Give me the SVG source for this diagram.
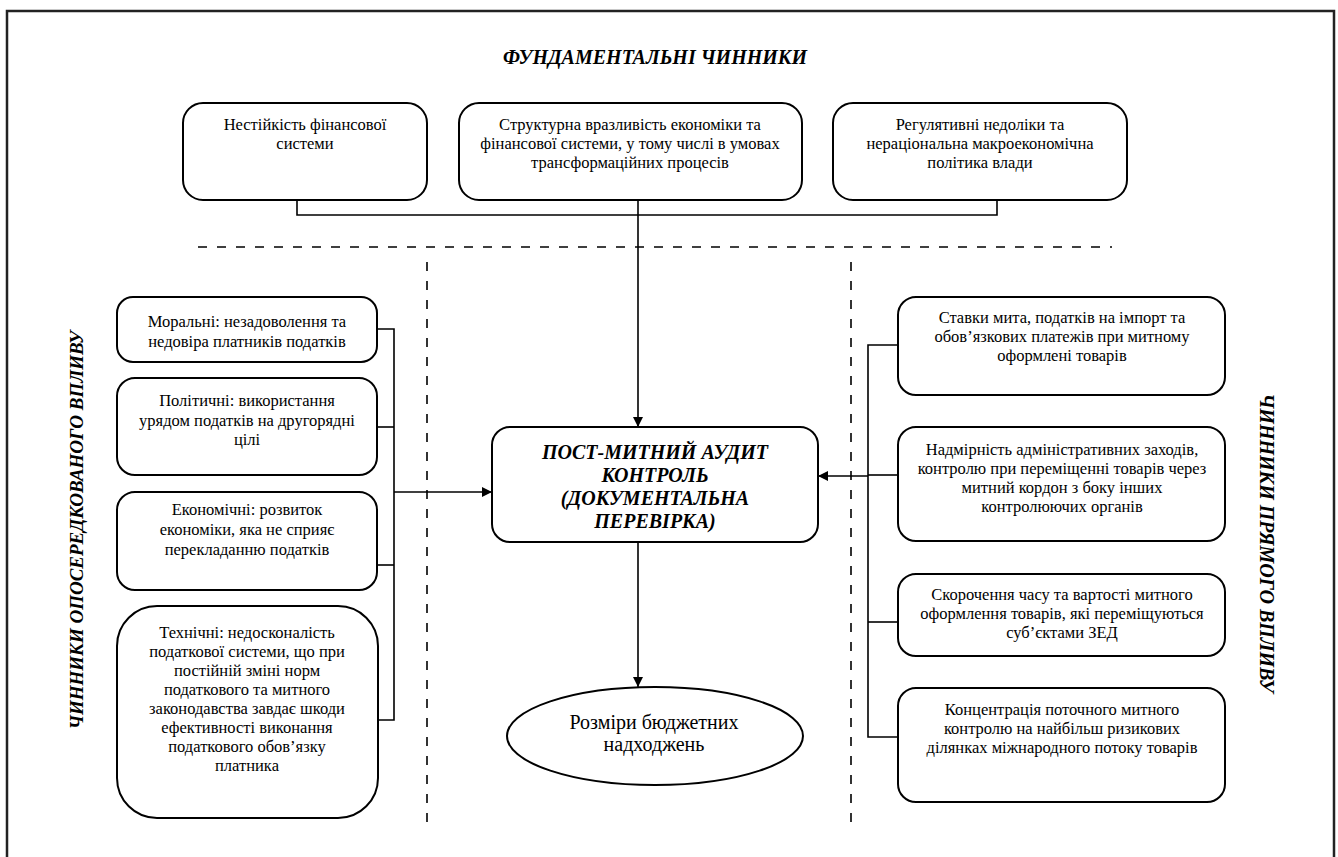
<svg xmlns="http://www.w3.org/2000/svg" width="1338" height="857" viewBox="0 0 1338 857">
<defs>
<style>
.box{fill:#fff;stroke:#000;stroke-width:2}
.t{font-size:16.5px;text-anchor:middle;fill:#000}
.tb{font-weight:bold;font-style:italic;text-anchor:middle;fill:#000}
.s18{font-size:20px}
.s19{font-size:19px}
.s20{font-size:20px}
.ln{fill:none;stroke:#000;stroke-width:1.6}
.dash{fill:none;stroke:#000;stroke-width:1.6;stroke-dasharray:9 10}
</style>
<marker id="arr" viewBox="0 0 10 10" refX="10" refY="5" markerWidth="10" markerHeight="10" markerUnits="userSpaceOnUse" orient="auto">
<path d="M0,0 L10,5 L0,10 z" fill="#000"/>
</marker>
</defs>
<rect x="0" y="0" width="1338" height="857" fill="#fff"/>
<path d="M7,862 V11 H1334 V862" fill="none" stroke="#222" stroke-width="2.5"/>

<g font-family="Liberation Serif, Tinos, Times New Roman, Noto Serif, DejaVu Serif, serif">
<g id="title"><text class="tb s20" x="655" y="64">ФУНДАМЕНТАЛЬНІ ЧИННИКИ</text></g>
<g id="label-left"><text class="tb s19" transform="translate(83,530) rotate(-90)">ЧИННИКИ ОПОСЕРЕДКОВАНОГО ВПЛИВУ</text></g>
<g id="label-right"><text class="tb s20" transform="translate(1260,543) rotate(90)">ЧИННИКИ ПРЯМОГО ВПЛИВУ</text></g>

<g id="dividers">
<line class="dash" x1="198" y1="247" x2="1112" y2="247"/>
<line class="dash" x1="427" y1="262" x2="427" y2="828"/>
<line class="dash" x1="851" y1="262" x2="851" y2="828"/>
</g>

<g id="connectors">
<path class="ln" d="M297,200 V215 H997 V200"/>
<path class="ln" d="M638,200 V427" marker-end="url(#arr)"/>
<path class="ln" d="M377,329 H394 V720 H378"/>
<path class="ln" d="M377,427 H394"/>
<path class="ln" d="M377,565 H394"/>
<path class="ln" d="M394,492 H492" marker-end="url(#arr)"/>
<path class="ln" d="M898,345 H868 V737 H898"/>
<path class="ln" d="M868,475 H898"/>
<path class="ln" d="M868,622 H898"/>
<path class="ln" d="M868,476 H818" marker-end="url(#arr)"/>
<path class="ln" d="M638,542 V687" marker-end="url(#arr)"/>
</g>

<g id="top1"><rect class="box" x="183" y="103" width="244" height="97" rx="20"/>
<text class="t" x="305" y="130">Нестійкість фінансової</text><text class="t" x="305" y="149">системи</text></g>
<g id="top2"><rect class="box" x="459" y="103" width="343" height="97" rx="20"/>
<text class="t" x="630" y="130">Структурна вразливість економіки та</text><text class="t" x="630" y="149">фінансової системи, у тому числі в умовах</text><text class="t" x="630" y="168">трансформаційних процесів</text></g>
<g id="top3"><rect class="box" x="833" y="103" width="294" height="97" rx="20"/>
<text class="t" x="980" y="130">Регулятивні недоліки та</text><text class="t" x="980" y="149">нераціональна макроекономічна</text><text class="t" x="980" y="168">політика влади</text></g>

<g id="left1"><rect class="box" x="117" y="297" width="260" height="65" rx="16"/>
<text class="t" x="247" y="327">Моральні: незадоволення та</text><text class="t" x="247" y="347">недовіра платників податків</text></g>
<g id="left2"><rect class="box" x="117" y="378" width="260" height="97" rx="18"/>
<text class="t" x="247" y="406">Політичні: використання</text><text class="t" x="247" y="426">урядом податків на другорядні</text><text class="t" x="247" y="445">цілі</text></g>
<g id="left3"><rect class="box" x="117" y="492" width="260" height="98" rx="18"/>
<text class="t" x="247" y="515">Економічні: розвиток</text><text class="t" x="247" y="535">економіки, яка не сприяє</text><text class="t" x="247" y="555">перекладанню податків</text></g>
<g id="left4"><rect class="box" x="117" y="606" width="261" height="212" rx="40"/>
<text class="t" x="247" y="638">Технічні: недосконалість</text><text class="t" x="247" y="657">податкової системи, що при</text><text class="t" x="247" y="676">постійній зміні норм</text><text class="t" x="247" y="695">податкового та митного</text><text class="t" x="247" y="714">законодавства завдає шкоди</text><text class="t" x="247" y="733">ефективності виконання</text><text class="t" x="247" y="752">податкового обов’язку</text><text class="t" x="247" y="771">платника</text></g>

<g id="center"><rect class="box" x="492" y="427" width="326" height="115" rx="18"/>
<text class="tb s20" x="655" y="459">ПОСТ-МИТНИЙ АУДИТ</text><text class="tb s20" x="655" y="482">КОНТРОЛЬ</text><text class="tb s20" x="655" y="505">(ДОКУМЕНТАЛЬНА</text><text class="tb s20" x="655" y="528">ПЕРЕВІРКА)</text></g>

<g id="result"><ellipse class="box" cx="655" cy="736" rx="148" ry="49"/>
<text class="t s18" x="654" y="729">Розміри бюджетних</text><text class="t s18" x="654" y="751">надходжень</text></g>

<g id="right1"><rect class="box" x="898" y="297" width="327" height="98" rx="18"/>
<text class="t" x="1062" y="323">Ставки мита, податків на імпорт та</text><text class="t" x="1062" y="342">обов’язкових платежів при митному</text><text class="t" x="1062" y="361">оформлені товарів</text></g>
<g id="right2"><rect class="box" x="898" y="427" width="327" height="114" rx="18"/>
<text class="t" x="1062" y="455">Надмірність адміністративних заходів,</text><text class="t" x="1062" y="474">контролю при переміщенні товарів через</text><text class="t" x="1062" y="493">митний кордон з боку інших</text><text class="t" x="1062" y="512">контролюючих органів</text></g>
<g id="right3"><rect class="box" x="898" y="574" width="327" height="82" rx="18"/>
<text class="t" x="1062" y="600">Скорочення часу та вартості митного</text><text class="t" x="1062" y="619">оформлення товарів, які переміщуються</text><text class="t" x="1062" y="638">суб’єктами ЗЕД</text></g>
<g id="right4"><rect class="box" x="898" y="688" width="327" height="114" rx="18"/>
<text class="t" x="1062" y="715">Концентрація поточного митного</text><text class="t" x="1062" y="734">контролю на найбільш ризикових</text><text class="t" x="1062" y="753">ділянках міжнародного потоку товарів</text></g>
</g>
</svg>
